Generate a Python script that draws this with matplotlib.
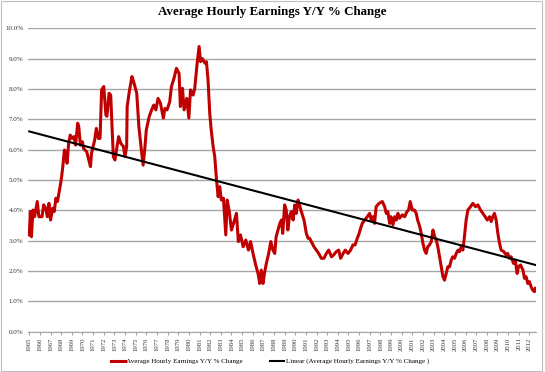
import matplotlib.pyplot as plt
from matplotlib.ticker import FuncFormatter

# values (year, % change)
years = [1965.0, 1965.1, 1965.2, 1965.35, 1965.5, 1965.75, 1965.9, 1966.2, 1966.35, 1966.55,
         1966.7, 1966.85, 1967.0, 1967.2, 1967.35, 1967.5, 1967.65, 1968.0, 1968.15, 1968.3,
         1968.4, 1968.55, 1968.7, 1968.85, 1969.0, 1969.2, 1969.35, 1969.55, 1969.65, 1969.8,
         1970.0, 1970.1, 1970.4, 1970.75, 1970.85, 1971.15, 1971.3, 1971.5, 1971.65, 1971.8,
         1972.0, 1972.2, 1972.3, 1972.5, 1972.65, 1972.9, 1973.05, 1973.4, 1973.6, 1973.85,
         1974.0, 1974.15, 1974.2, 1974.4, 1974.65, 1974.8, 1975.1, 1975.3, 1975.5, 1975.7,
         1975.85, 1976.0, 1976.27, 1976.5, 1976.7, 1976.9, 1977.1, 1977.33, 1977.6, 1977.75,
         1977.95, 1978.2, 1978.36, 1978.6, 1978.83, 1979.08, 1979.2, 1979.4, 1979.55, 1979.8,
         1980.0, 1980.15, 1980.4, 1980.55, 1980.78, 1980.96, 1981.1, 1981.27, 1981.5, 1981.65,
         1981.8, 1981.96, 1982.1, 1982.28, 1982.43, 1982.6, 1982.75, 1982.9, 1983.05, 1983.25,
         1983.47, 1983.6, 1983.8, 1984.0, 1984.2, 1984.47, 1984.65, 1984.85, 1985.1, 1985.35,
         1985.6, 1985.8, 1986.03, 1986.28, 1986.5, 1986.66, 1986.8, 1986.97, 1987.1, 1987.28,
         1987.5, 1987.7, 1987.9, 1988.07, 1988.2, 1988.38, 1988.55, 1988.7, 1988.82, 1989.0,
         1989.15, 1989.3, 1989.45, 1989.63, 1989.8, 1989.95, 1990.1, 1990.26, 1990.4, 1990.57,
         1990.82, 1991.04, 1991.2, 1991.35, 1991.5, 1991.76, 1991.98, 1992.2, 1992.45, 1992.7,
         1992.92, 1993.14, 1993.4, 1993.6, 1993.86, 1994.08, 1994.26, 1994.5, 1994.7, 1994.95,
         1995.2, 1995.42, 1995.62, 1995.83, 1996.0, 1996.14, 1996.3, 1996.52, 1996.77, 1996.99,
         1997.14, 1997.3, 1997.45, 1997.6, 1997.87, 1998.18, 1998.4, 1998.55, 1998.7, 1998.87,
         1999.0, 1999.18, 1999.35, 1999.5, 1999.65, 1999.8, 2000.06, 2000.28, 2000.5, 2000.65,
         2000.8, 2001.0, 2001.2, 2001.37, 2001.5, 2001.7, 2001.84, 2002.0, 2002.15, 2002.3,
         2002.45, 2002.62, 2002.78, 2002.94, 2003.1, 2003.25, 2003.4, 2003.56, 2003.72, 2003.88,
         2004.03, 2004.19, 2004.34, 2004.5, 2004.66, 2004.8, 2004.97, 2005.13, 2005.3, 2005.44,
         2005.6, 2005.75, 2005.9, 2006.06, 2006.22, 2006.47, 2006.69, 2006.94, 2007.16, 2007.41,
         2007.63, 2007.85, 2008.04, 2008.26, 2008.41, 2008.57, 2008.72, 2008.88, 2009.04, 2009.2,
         2009.35, 2009.6, 2009.82, 2009.97, 2010.13, 2010.29, 2010.51, 2010.68, 2010.85, 2010.98,
         2011.17, 2011.4, 2011.54, 2011.7, 2011.85, 2012.0, 2012.17, 2012.32, 2012.48, 2012.57]
earnings = [3.19, 3.96, 3.13, 4.01, 3.79, 4.29, 3.79, 3.79, 4.18, 4.07,
            3.79, 4.23, 3.68, 4.07, 3.96, 4.40, 4.29, 5.00, 5.44, 5.99,
            5.95, 5.55, 6.21, 6.48, 6.37, 6.43, 6.15, 6.87, 6.76, 6.15,
            6.26, 6.04, 5.93, 5.44, 5.88, 6.32, 6.70, 6.37, 6.37, 7.97,
            8.08, 7.14, 7.10, 7.86, 7.80, 5.77, 5.66, 6.43, 6.21, 6.10,
            5.77, 6.10, 7.42, 7.91, 8.41, 8.25, 7.86, 6.76, 6.10, 5.49,
            6.00, 6.65, 7.09, 7.31, 7.47, 7.31, 7.69, 7.53, 7.04, 7.36,
            7.31, 7.58, 8.08, 8.35, 8.68, 8.51, 7.42, 8.02, 7.31, 7.69,
            7.04, 7.97, 7.80, 8.02, 8.85, 9.40, 8.90, 9.00, 8.85, 8.90,
            8.30, 7.20, 6.65, 6.10, 5.77, 5.00, 4.45, 4.78, 4.34, 4.40,
            3.19, 4.34, 3.96, 3.35, 3.57, 3.90, 2.97, 3.19, 2.80, 3.02,
            2.69, 2.97, 2.58, 2.20, 1.92, 1.59, 2.03, 1.59, 1.92, 2.25,
            2.58, 2.97, 2.69, 2.58, 3.13, 3.35, 3.57, 3.68, 3.24, 4.18,
            4.01, 3.35, 3.79, 3.96, 3.68, 4.18, 3.90, 4.34, 4.18, 3.96,
            3.68, 3.24, 3.08, 3.08, 2.97, 2.80, 2.69, 2.58, 2.42, 2.42,
            2.58, 2.69, 2.47, 2.53, 2.64, 2.69, 2.42, 2.58, 2.69, 2.58,
            2.69, 2.86, 2.86, 3.08, 3.24, 3.41, 3.57, 3.68, 3.79, 3.90,
            3.68, 3.79, 3.57, 4.12, 4.23, 4.29, 4.12, 3.90, 3.96, 3.57,
            3.79, 3.52, 3.79, 3.68, 3.90, 3.74, 3.85, 3.79, 3.96, 4.01,
            4.29, 4.01, 4.01, 3.90, 3.68, 3.46, 3.24, 2.91, 2.69, 2.58,
            2.80, 2.86, 2.97, 3.35, 3.13, 3.02, 2.80, 2.47, 2.14, 1.81,
            1.70, 1.92, 2.14, 2.14, 2.36, 2.47, 2.42, 2.58, 2.69, 2.64,
            2.80, 2.69, 3.13, 3.68, 4.01, 4.12, 4.23, 4.12, 4.18, 4.01,
            3.90, 3.79, 3.68, 3.79, 3.63, 3.79, 3.90, 3.68, 3.24, 2.91,
            2.69, 2.64, 2.53, 2.58, 2.42, 2.47, 2.25, 2.36, 1.92, 2.14,
            2.20, 2.03, 1.76, 1.81, 1.59, 1.65, 1.48, 1.37, 1.32, 1.43]

# linear trend as drawn in the reference
trend_years = [1965.0, 2012.57]
trend_vals = [6.6, 2.2]

year_labels = list(range(1965, 2013))
y_ticks = [i * 1.0 for i in range(11)]

serif = ['Liberation Serif', 'DejaVu Serif']

fig = plt.figure(figsize=(5.45, 3.72), dpi=100)
ax = fig.add_axes([0.0508, 0.1083, 0.9322, 0.8157])

ax.plot(years, earnings, color='#c00000', lw=2.2, solid_joinstyle='round',
        label='Average Hourly Earnings Y/Y % Change', zorder=3)
ax.plot(trend_years, trend_vals, color='black', lw=1.5,
        label='Linear (Average Hourly Earnings Y/Y % Change )', zorder=4)

ax.set_xlim(1964.85, 2012.6)
ax.set_ylim(0, 10)
ax.set_yticks(y_ticks)
ax.yaxis.set_major_formatter(FuncFormatter(lambda v, p: '%.1f%%' % v))
ax.set_xticks(year_labels)
ax.set_xticklabels([str(y) for y in year_labels], rotation=90)

ax.grid(axis='y', color='#a6a6a6', lw=1.0)
ax.set_axisbelow(True)
for s in ['top', 'right', 'left']:
    ax.spines[s].set_visible(False)
ax.spines['bottom'].set_color('#a6a6a6')
ax.tick_params(axis='y', length=0, pad=3, labelsize=5, colors='#333333')
ax.tick_params(axis='x', length=2, color='#a6a6a6', pad=2, labelsize=4.8, colors='#333333')
for lbl in ax.get_xticklabels() + ax.get_yticklabels():
    lbl.set_family(serif)

fig.suptitle('Average Hourly Earnings Y/Y % Change', y=0.983, x=0.5,
             fontsize=9.4, fontweight='bold', family=serif)

fig.legend(loc='center', bbox_to_anchor=(0.495, 0.029), ncol=2, frameon=False,
           prop={'family': serif, 'size': 5.1}, handlelength=2.0, columnspacing=3.8,
           handletextpad=0.2)

# thin grey border round the chart area
fig.patches.append(plt.Rectangle((0.002, 0.004), 0.993, 0.992, transform=fig.transFigure,
                                 fill=False, edgecolor='#bfbfbf', lw=0.8))

plt.savefig('out.png', dpi=100)
